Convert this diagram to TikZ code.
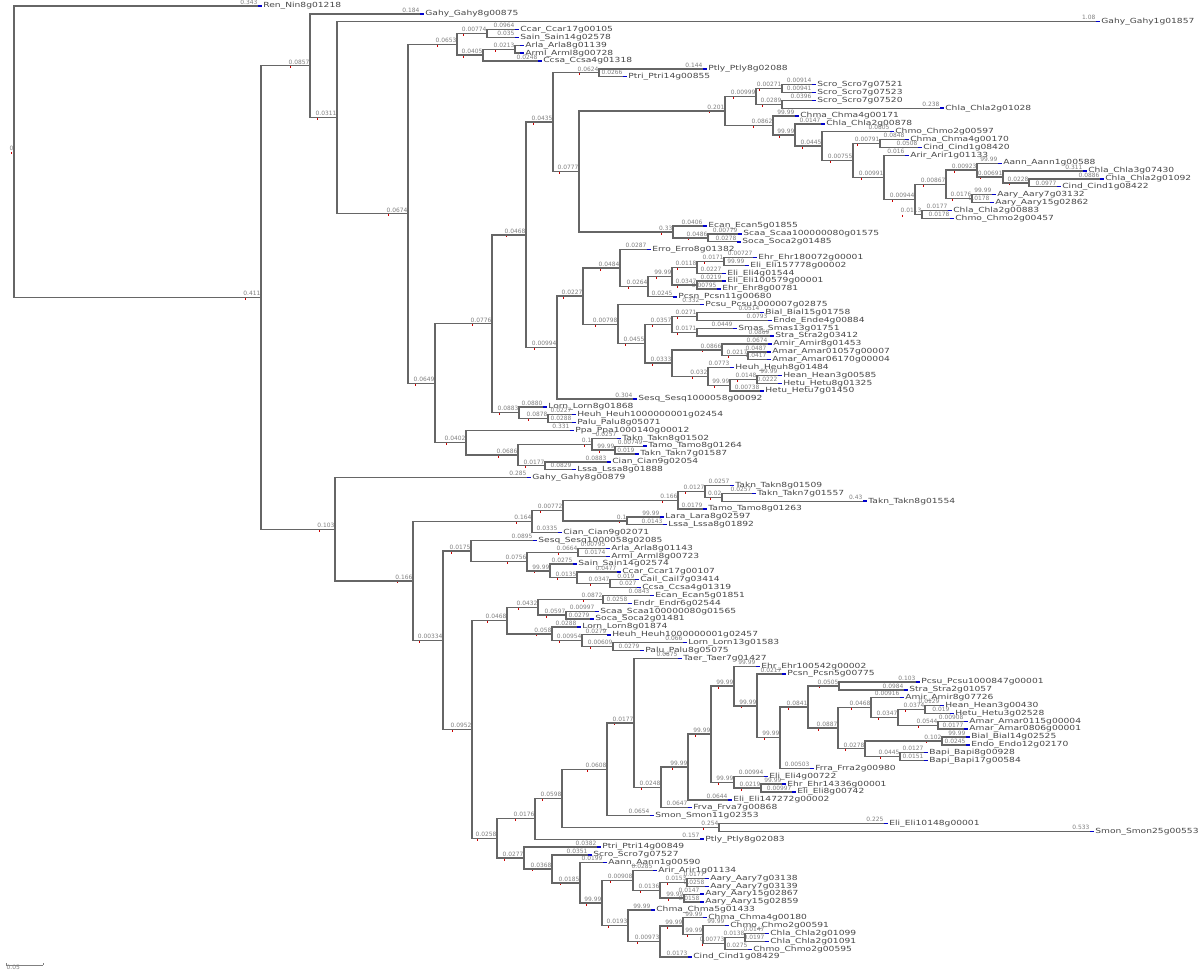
\documentclass[tikz,border=0pt]{standalone}
\usepackage{fontspec}
\usetikzlibrary{calc}
\newfontfamily\leaffont[FakeStretch=1.3]{DejaVu Sans}
\newfontfamily\lenfont{DejaVu Sans}
\tikzset{
  branch/.style={draw=gray!80!black, line width=0.95pt},
  blen/.style={anchor=south east, inner sep=0.3pt, yshift=0.7pt, text=black!50, font=\lenfont\fontsize{4.2pt}{4.2pt}\selectfont},
  leafname/.style={anchor=west, inner sep=0pt, text=black!72, font=\leaffont\fontsize{5pt}{5pt}\selectfont},
  bluemark/.style={draw=blue!80!black, line width=1pt},
  redtick/.style={draw=red!80!black, line width=0.7pt},
}
\newcommand\inode[5]{%
  \path ($(#3)!.5!(#4)$) coordinate (#1m);
  \coordinate (#1) at (#2,0 |- #1m);
  \draw[branch] (#1) |- (#3);
  \draw[branch] (#1) |- (#4);
  \node[blen] (#1t) at (#1) {#5};
  \draw[redtick] ([xshift=2pt,yshift=-0.9pt]#1t.south west) -- ++(0,-1.6pt);
}
\begin{document}
\begin{tikzpicture}[x=0.025cm, y=-0.025cm]
\path[use as bounding box, fill=white] (0,0) rectangle (1200,976);

\foreach \i/\xx/\bl/\nm in {
  0/258/0.343/Ren\_Nin8g01218, 1/420/0.184/Gahy\_Gahy8g00875, 2/1096/1.08/Gahy\_Gahy1g01857,
  3/515/0.0964/Ccar\_Ccar17g00105, 4/515/0.035/Sain\_Sain14g02578, 5/520//Arla\_Arla8g01139,
  6/520//Arml\_Arml8g00728, 7/538/0.0248/Ccsa\_Ccsa4g01318, 8/703/0.144/Ptly\_Ptly8g02088,
  9/623/0.0266/Ptri\_Ptri14g00855, 10/812/0.00914/Scro\_Scro7g07521, 11/812/0.00941/Scro\_Scro7g07523,
  12/812/0.0396/Scro\_Scro7g07520, 13/940/0.238/Chla\_Chla2g01028, 14/795/99.99/Chma\_Chma4g00171,
  15/821/0.0147/Chla\_Chla2g00878, 16/890/0.0805/Chmo\_Chmo2g00597, 17/905/0.0848/Chma\_Chma4g00170,
  18/918/0.0508/Cind\_Cind1g08420, 19/905/0.016/Arir\_Arir1g01133, 20/998/99.99/Aann\_Aann1g00588,
  21/1083/0.311/Chla\_Chla3g07430, 22/1100/0.0886/Chla\_Chla2g01092, 23/1057/0.0977/Cind\_Cind1g08422,
  24/992/99.99/Aary\_Aary7g03132, 25/990/0.0178/Aary\_Aary15g02862, 26/948/0.0177/Chla\_Chla2g00883,
  27/950/0.0178/Chmo\_Chmo2g00457, 28/703/0.0406/Ecan\_Ecan5g01855, 29/738/0.00779/Scaa\_Scaa100000080g01575,
  30/737/0.0278/Soca\_Soca2g01485, 31/647/0.0287/Erro\_Erro8g01382, 32/753/0.00727/Ehr\_Ehr180072g00001,
  33/745/99.99/Eli\_Eli157778g00002, 34/722/0.0227/Eli\_Eli4g01544, 35/722/0.0219/Eli\_Eli100579g00001,
  36/717/0.00795/Ehr\_Ehr8g00781, 37/673/0.0245/Pcsn\_Pcsn11g00680, 38/700/0.332/Pcsu\_Pcsu1000007g02875,
  39/760/0.0514/Bial\_Bial15g01758, 40/768/0.0793/Ende\_Ende4g00884, 41/733/0.0449/Smas\_Smas13g01751,
  42/770/0.0869/Stra\_Stra2g03412, 43/768/0.0674/Amir\_Amir8g01453, 44/767/0.0487/Amar\_Amar01057g00007,
  45/767/0.0417/Amar\_Amar06170g00004, 46/730/0.0773/Heuh\_Heuh8g01484, 47/778/99.99/Hean\_Hean3g00585,
  48/778/0.0222/Hetu\_Hetu8g01325, 49/760/0.00738/Hetu\_Hetu7g01450, 50/633/0.304/Sesq\_Sesq1000058g00092,
  51/543/0.0880/Lorn\_Lorn8g01868, 52/572/0.0227/Heuh\_Heuh1000000001g02454, 53/572/0.0288/Palu\_Palu8g05071,
  54/570/0.331/Ppa\_Ppa1000140g00012, 55/617/0.0257/Takn\_Takn8g01502, 56/643/0.00749/Tamo\_Tamo8g01264,
  57/635/0.019/Takn\_Takn7g01587, 58/607/0.0883/Cian\_Cian9g02054, 59/572/0.0829/Lssa\_Lssa8g01888,
  60/527/0.285/Gahy\_Gahy8g00879, 61/730/0.0257/Takn\_Takn8g01509, 62/752/0.0257/Takn\_Takn7g01557,
  63/863/0.43/Takn\_Takn8g01554, 64/703/0.0179/Tamo\_Tamo8g01263, 65/660/99.99/Lara\_Lara8g02597,
  66/663/0.0143/Lssa\_Lssa8g01892, 67/558/0.0335/Cian\_Cian9g02071, 68/533/0.0895/Sesq\_Sesq1000058g02085,
  69/606/0.00795/Arla\_Arla8g01143, 70/606/0.0174/Arml\_Arml8g00723, 71/573/0.0275/Sain\_Sain14g02574,
  72/617/0.0477/Ccar\_Ccar17g00107, 73/635/0.019/Cail\_Cail7g03414, 74/637/0.027/Ccsa\_Ccsa4g01319,
  75/650/0.0843/Ecan\_Ecan5g01851, 76/628/0.0258/Endr\_Endr6g02544, 77/595/0.00997/Scaa\_Scaa100000080g01565,
  78/590/0.0279/Soca\_Soca2g01481, 79/577/0.0288/Lorn\_Lorn8g01874, 80/607/0.0279/Heuh\_Heuh1000000001g02457,
  81/683/0.066/Lorn\_Lorn13g01583, 82/640/0.0279/Palu\_Palu8g05075, 83/678/0.0875/Taer\_Taer7g01427,
  84/756/99.99/Ehr\_Ehr100542g00002, 85/782/0.0217/Pcsn\_Pcsn5g00775, 86/916/0.103/Pcsu\_Pcsu1000847g00001,
  87/904/0.0984/Stra\_Stra2g01057, 88/900/0.00916/Amir\_Amir8g07726, 89/940/0.0129/Hean\_Hean3g00430,
  90/950/0.019/Hetu\_Hetu3g02528, 91/964/0.00908/Amar\_Amar0115g00004, 92/964/0.0177/Amar\_Amar0806g00001,
  93/966/99.99/Bial\_Bial14g02525, 94/966/0.0245/Endo\_Endo12g02170, 95/924/0.0127/Bapi\_Bapi8g00928,
  96/924/0.0151/Bapi\_Bapi17g00584, 97/810/0.00503/Frra\_Frra2g00980, 98/764/0.00994/Eli\_Eli4g00722,
  99/782/99.99/Ehr\_Ehr14336g00001, 100/792/0.00997/Eli\_Eli8g00742, 101/728/0.0644/Eli\_Eli147272g00002,
  102/688/0.0647/Frva\_Frva7g00868, 103/650/0.0654/Smon\_Smon11g02353, 104/884/0.225/Eli\_Eli10148g00001,
  105/1090/0.533/Smon\_Smon25g00553, 106/700/0.157/Ptly\_Ptly8g02083, 107/597/0.0382/Ptri\_Ptri14g00849,
  108/588/0.0351/Scro\_Scro7g07527, 109/603/0.0199/Aann\_Aann1g00590, 110/653/0.0285/Arir\_Arir1g01134,
  111/705/0.0177/Aary\_Aary7g03138, 112/705/0.0258/Aary\_Aary7g03139, 113/700/0.0147/Aary\_Aary15g02867,
  114/700/0.0158/Aary\_Aary15g02859, 115/651/99.99/Chma\_Chma5g01433, 116/703/99.99/Chma\_Chma4g00180,
  117/725/99.99/Chmo\_Chmo2g00591, 118/765/0.0147/Chla\_Chla2g01099, 119/765/0.0197/Chla\_Chla2g01091,
  120/748/0.0275/Chmo\_Chmo2g00595, 121/688/0.0173/Cind\_Cind1g08429}
{
  \coordinate (l\i) at (\xx, 6+7.86*\i);
  \draw[bluemark] (l\i) -- ++(4,0);
  \node[blen] at (l\i) {\bl};
  \node[leafname] (n\i) at ([xshift=3.6pt]l\i) {\nm};
}

\inode{Fa}{487}{l3}{l4}{0.00774}
\inode{Fc}{515}{l5}{l6}{0.0213}
\inode{Fb}{483}{Fc}{l7}{0.0405}
\inode{F}{457}{Fa}{Fb}{0.0653}
\inode{Q}{599}{l8}{l9}{0.0624}
\inode{S1a}{782}{l10}{l11}{0.00271}
\inode{S1b}{782}{l12}{l13}{0.0289}
\inode{S1}{756}{S1a}{S1b}{0.00999}
\inode{S6}{880}{l17}{l18}{0.00791}
\inode{X3}{1029}{l22}{l23}{0.0228}
\inode{X2}{1003}{l21}{X3}{0.00691}
\inode{X1}{977}{l20}{X2}{0.00923}
\inode{X5}{972}{l24}{l25}{0.0176}
\inode{X4}{946}{X1}{X5}{0.00867}
\inode{X6}{922}{l26}{l27}{0.0113}
\inode{S8}{915}{X4}{X6}{0.00944}
\inode{S7}{884}{l19}{S8}{0.00991}
\inode{S5}{853}{S6}{S7}{0.00755}
\inode{S4}{822}{l16}{S5}{0.0445}
\inode{S3}{795}{l15}{S4}{99.99}
\inode{S2}{773}{l14}{S3}{0.0862}
\inode{S}{725}{S1}{S2}{0.201}
\inode{T2}{708}{l29}{l30}{0.0486}
\inode{T}{673}{l28}{T2}{0.33}
\inode{R}{579}{S}{T}{0.0777}
\inode{P}{553}{Q}{R}{0.0435}
\inode{N6}{724}{l32}{l33}{0.0171}
\inode{N4}{697}{N6}{l34}{0.0118}
\inode{N5}{697}{l35}{l36}{0.0347}
\inode{N3}{672}{N4}{N5}{99.99}
\inode{N2}{648}{N3}{l37}{0.0264}
\inode{N1}{620}{l31}{N2}{0.0484}
\inode{O5}{697}{l39}{l40}{0.0271}
\inode{O6}{697}{l41}{l42}{0.0171}
\inode{O3}{672}{O5}{O6}{0.0357}
\inode{O9}{748}{l44}{l45}{0.0217}
\inode{O7}{722}{l43}{O9}{0.0866}
\inode{O11}{757}{l47}{l48}{0.0148}
\inode{O10}{730}{O11}{l49}{99.99}
\inode{O8}{708}{l46}{O10}{0.032}
\inode{O4}{672}{O7}{O8}{0.0333}
\inode{O2}{645}{O3}{O4}{0.0455}
\inode{O}{618}{l38}{O2}{0.00798}
\inode{N}{583}{N1}{O}{0.0227}
\inode{M}{557}{N}{l50}{0.00994}
\inode{J}{526}{P}{M}{0.0468}
\inode{K2}{548}{l52}{l53}{0.0878}
\inode{K}{519}{l51}{K2}{0.0883}
\inode{H}{492}{J}{K}{0.0776}
\inode{I5}{615}{l56}{l57}{99.99}
\inode{I3}{592}{l55}{I5}{0.1}
\inode{I4}{545}{l58}{l59}{0.0177}
\inode{I2}{518}{I3}{I4}{0.0686}
\inode{I}{466}{l54}{I2}{0.0402}
\inode{G}{435}{H}{I}{0.0649}
\inode{E}{408}{F}{G}{0.0674}
\inode{D}{337}{l2}{E}{0.0311}
\inode{B}{310}{l1}{D}{0.0857}

\inode{C9}{722}{l62}{l63}{0.02}
\inode{C8}{705}{l61}{C9}{0.0127}
\inode{C6}{678}{C8}{l64}{0.166}
\inode{C7}{627}{l65}{l66}{0.1}
\inode{C5}{563}{C6}{C7}{0.00772}
\inode{C3}{532}{C5}{l67}{0.164}
\inode{D3}{578}{l69}{l70}{0.0664}
\inode{D6}{610}{l73}{l74}{0.0347}
\inode{D5}{577}{l72}{D6}{0.0135}
\inode{D4}{550}{l71}{D5}{99.99}
\inode{D2}{527}{D3}{D4}{0.0756}
\inode{D1}{471}{l68}{D2}{0.0175}
\inode{D11}{603}{l75}{l76}{0.0872}
\inode{D12}{566}{l77}{l78}{0.0597}
\inode{D9}{538}{D11}{D12}{0.0432}
\inode{D14}{613}{l81}{l82}{0.00609}
\inode{D13}{582}{l80}{D14}{0.00954}
\inode{D10}{552}{l79}{D13}{0.058}
\inode{D8}{507}{D9}{D10}{0.0468}
\inode{E12}{839}{l86}{l87}{0.0505}
\inode{E18}{925}{l89}{l90}{0.0374}
\inode{E19}{938}{l91}{l92}{0.0544}
\inode{E17}{898}{E18}{E19}{0.0347}
\inode{E15}{871}{l88}{E17}{0.0468}
\inode{E20}{942}{l93}{l94}{0.102}
\inode{E21}{900}{l95}{l96}{0.0445}
\inode{E16}{865}{E20}{E21}{0.0278}
\inode{E13}{838}{E15}{E16}{0.0887}
\inode{E10}{808}{E12}{E13}{0.0841}
\inode{E9}{780}{E10}{l97}{99.99}
\inode{E8}{757}{l85}{E9}{99.99}
\inode{E6}{734}{l84}{E8}{99.99}
\inode{E14}{761}{l99}{l100}{0.0219}
\inode{E7}{734}{l98}{E14}{99.99}
\inode{E5}{711}{E6}{E7}{99.99}
\inode{E4}{688}{E5}{l101}{99.99}
\inode{E3}{661}{E4}{l102}{0.0248}
\inode{E2}{634}{l83}{E3}{0.0177}
\inode{E1}{607}{E2}{l103}{0.0608}
\inode{G1}{719}{l104}{l105}{0.254}
\inode{U2}{562}{E1}{G1}{0.0598}
\inode{U1}{535}{U2}{l106}{0.0176}
\inode{U10}{687}{l111}{l112}{0.0153}
\inode{U11}{684}{l113}{l114}{99.99}
\inode{U9}{660}{U10}{U11}{0.0136}
\inode{U7}{633}{l110}{U9}{0.00908}
\inode{U16}{745}{l118}{l119}{0.0138}
\inode{U15}{725}{U16}{l120}{0.00773}
\inode{U14}{703}{l117}{U15}{99.99}
\inode{U13}{683}{l116}{U14}{99.99}
\inode{U12}{660}{U13}{l121}{0.00973}
\inode{U8}{628}{l115}{U12}{0.0193}
\inode{U6}{602}{U7}{U8}{99.99}
\inode{U5}{580}{l109}{U6}{0.0185}
\inode{U4}{552}{l108}{U5}{0.0368}
\inode{U3}{524}{l107}{U4}{0.0277}
\inode{D15}{497}{U1}{U3}{0.0258}
\inode{D7}{472}{D8}{D15}{0.0952}
\inode{C4}{443}{D1}{D7}{0.00334}
\inode{C2}{413}{C3}{C4}{0.166}
\inode{C}{335}{l60}{C2}{0.103}
\inode{A}{261}{B}{C}{0.411}
\inode{root}{14}{l0}{A}{0}

\coordinate (sb1) at (6,965);
\coordinate (sb2) at (43,965);
\draw[gray, line width=0.5pt] (sb1) -- (sb2);
\draw[gray, line width=0.5pt] (sb1) -- ++(0,-2) (sb2) -- ++(0,-2);
\node[blen, anchor=north west, yshift=-0.5pt] (sbt) at (sb1) {0.05};
\end{tikzpicture}
\end{document}
